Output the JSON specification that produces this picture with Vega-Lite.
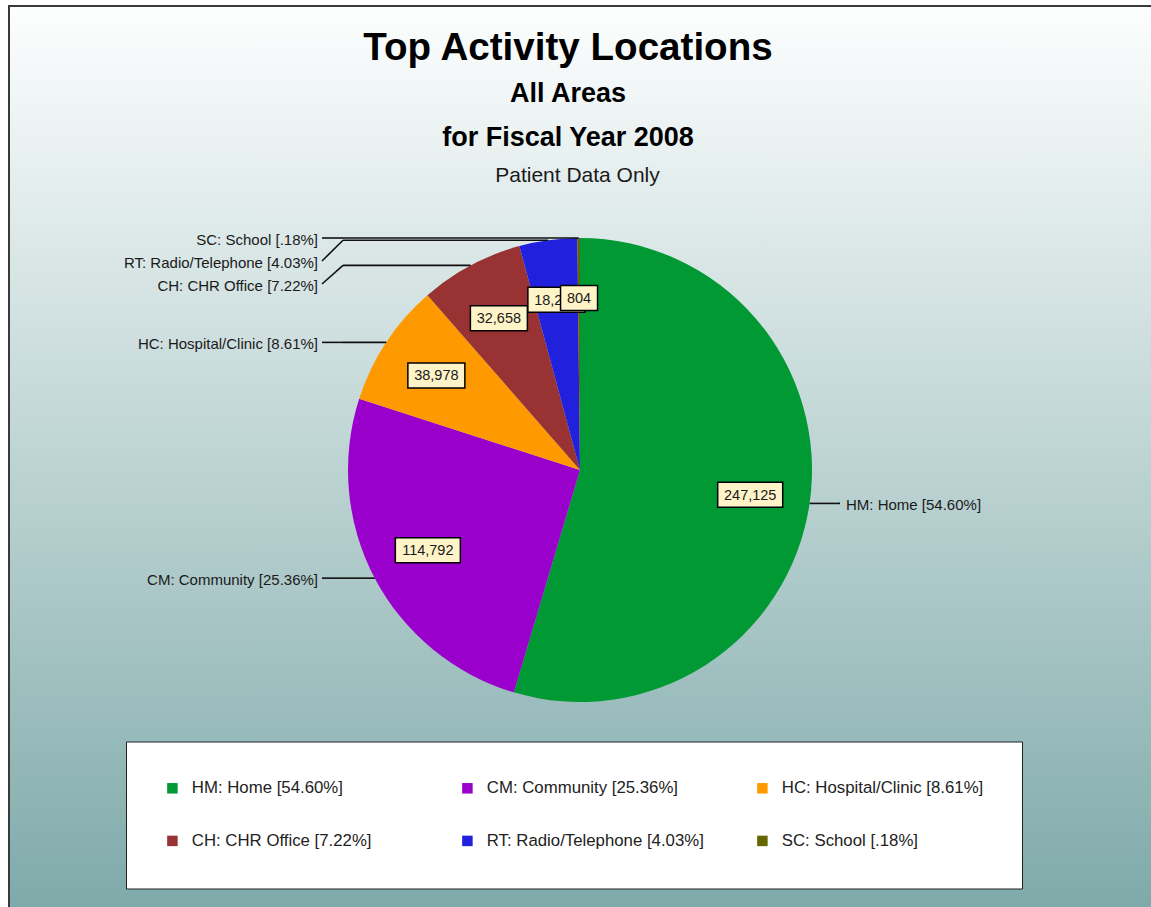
{
  "$schema": "https://vega.github.io/schema/vega-lite/v6.json",
  "width": 1150,
  "height": 910,
  "autosize": {"type": "none"},
  "padding": {"left": 9, "top": 6, "right": 0, "bottom": 0},
  "background": "#ffffff",
  "title": {
    "text": "Top Activity Locations",
    "subtitle": ["All Areas", "for Fiscal Year 2008"],
    "font": "Liberation Sans",
    "fontSize": 38.6,
    "fontWeight": "bold",
    "color": "#000000",
    "subtitleFont": "Liberation Sans",
    "subtitleFontSize": 27,
    "subtitleFontWeight": "bold",
    "subtitleColor": "#000000",
    "subtitleLineHeight": 44,
    "subtitlePadding": 12.7,
    "anchor": "middle",
    "frame": "group",
    "offset": -146,
    "dx": -16
  },
  "data": {
    "values": [
      {"order": 1, "name": "HM: Home [54.60%]", "value": 247125},
      {"order": 2, "name": "CM: Community [25.36%]", "value": 114792},
      {"order": 3, "name": "HC: Hospital/Clinic [8.61%]", "value": 38978},
      {"order": 4, "name": "CH: CHR Office [7.22%]", "value": 32658},
      {"order": 5, "name": "RT: Radio/Telephone [4.03%]", "value": 18243},
      {"order": 6, "name": "SC: School [.18%]", "value": 804}
    ]
  },
  "transform": [
    {"joinaggregate": [{"op": "sum", "field": "value", "as": "total"}]},
    {"window": [{"op": "sum", "field": "value", "as": "cum"}], "sort": [{"field": "order"}], "frame": [null, 0]},
    {"calculate": "2*PI*(datum.cum - datum.value/2)/datum.total", "as": "mid"},
    {"calculate": "232*sin(datum.mid)", "as": "ex"},
    {"calculate": "-232*cos(datum.mid)", "as": "ey"},
    {"calculate": "172*sin(datum.mid)", "as": "bx"},
    {"calculate": "-172*cos(datum.mid)", "as": "by"},
    {"calculate": "datum.mid < PI ? 'R' : 'L'", "as": "side"},
    {"window": [{"op": "row_number", "as": "rank"}], "groupby": ["side"], "sort": [{"field": "ey"}]},
    {"calculate": "datum.ey - 23*datum.rank", "as": "t"},
    {"window": [{"op": "max", "field": "t", "as": "tmax"}], "groupby": ["side"], "sort": [{"field": "ey"}], "frame": [null, 0]},
    {"calculate": "datum.tmax + 23*datum.rank", "as": "ly"},
    {"calculate": "datum.side == 'R' ? 258 : -237", "as": "elbx"},
    {"calculate": "datum.side == 'R' ? 260 : -258", "as": "endx"},
    {"calculate": "datum.side == 'R' ? 266 : -262", "as": "tx"},
    {"calculate": "format(datum.value, ',d')", "as": "vlabel"},
    {"calculate": "(8*length(datum.vlabel) - (indexof(datum.vlabel, ',') >= 0 ? 4 : 0) + 13)/2", "as": "hw"},
    {"calculate": "datum.bx - datum.hw", "as": "bx1"},
    {"calculate": "datum.bx + datum.hw", "as": "bx2"},
    {"calculate": "datum.by - 12.5", "as": "by1"},
    {"calculate": "datum.by + 12.5", "as": "by2"}
  ],
  "layer": [
    {
      "mark": {"type": "arc", "outerRadius": 232, "stroke": null},
      "encoding": {
        "theta": {"field": "value", "type": "quantitative", "stack": true},
        "order": {"field": "order", "type": "quantitative"},
        "x": {"datum": 0, "type": "quantitative", "scale": {"domain": [-571, 579], "nice": false, "zero": false}, "axis": {"orient": "top", "title": "Patient Data Only", "titleX": 568, "titleY": 175, "titleAlign": "center", "titleBaseline": "alphabetic", "titleAngle": 0}},
        "y": {"datum": 0, "type": "quantitative", "scale": {"domain": [-464, 446], "nice": false, "zero": false, "reverse": true}, "axis": null},
        "color": {
          "field": "name",
          "type": "nominal",
          "scale": {
            "domain": ["HM: Home [54.60%]", "CM: Community [25.36%]", "HC: Hospital/Clinic [8.61%]", "CH: CHR Office [7.22%]", "RT: Radio/Telephone [4.03%]", "SC: School [.18%]"],
            "range": ["#009933", "#9900cc", "#ff9900", "#993333", "#2020dd", "#666600"]
          },
          "legend": {
            "title": null,
            "orient": "none",
            "legendX": 117,
            "legendY": 735.5,
            "columns": 3,
            "direction": "horizontal",
            "gridAlign": "all",
            "symbolType": "square",
            "symbolSize": 110,
            "symbolStrokeWidth": 0,
            "labelFont": "Liberation Sans",
            "labelFontSize": 16.8,
            "labelColor": "#222222",
            "labelLimit": 400,
            "labelOffset": 11,
            "columnPadding": 50,
            "rowPadding": 35,
            "padding": 38,
            "fillColor": "#ffffff",
            "strokeColor": "#222222"
          }
        }
      }
    },
    {
      "mark": {"type": "rule", "color": "#111111", "strokeWidth": 1.6},
      "encoding": {
        "x": {"field": "ex", "type": "quantitative", "scale": {"domain": [-571, 579], "nice": false, "zero": false}, "axis": {"orient": "top", "title": "Patient Data Only", "titleX": 568, "titleY": 175, "titleAlign": "center", "titleBaseline": "alphabetic", "titleAngle": 0}},
        "x2": {"field": "elbx"},
        "y": {"field": "ey", "type": "quantitative", "scale": {"domain": [-464, 446], "nice": false, "zero": false, "reverse": true}, "axis": null},
        "y2": {"field": "ey"}
      }
    },
    {
      "mark": {"type": "rule", "color": "#111111", "strokeWidth": 1.6},
      "encoding": {
        "x": {"field": "elbx", "type": "quantitative", "scale": {"domain": [-571, 579], "nice": false, "zero": false}, "axis": {"orient": "top", "title": "Patient Data Only", "titleX": 568, "titleY": 175, "titleAlign": "center", "titleBaseline": "alphabetic", "titleAngle": 0}},
        "x2": {"field": "endx"},
        "y": {"field": "ey", "type": "quantitative", "scale": {"domain": [-464, 446], "nice": false, "zero": false, "reverse": true}, "axis": null},
        "y2": {"field": "ly"}
      }
    },
    {
      "transform": [{"filter": "datum.side == 'R'"}],
      "mark": {"type": "text", "align": "left", "baseline": "middle", "dy": 1.5, "font": "Liberation Sans", "fontSize": 15, "color": "#1a1a1a"},
      "encoding": {
        "x": {"field": "tx", "type": "quantitative", "scale": {"domain": [-571, 579], "nice": false, "zero": false}, "axis": {"orient": "top", "title": "Patient Data Only", "titleX": 568, "titleY": 175, "titleAlign": "center", "titleBaseline": "alphabetic", "titleAngle": 0}},
        "y": {"field": "ly", "type": "quantitative", "scale": {"domain": [-464, 446], "nice": false, "zero": false, "reverse": true}, "axis": null},
        "text": {"field": "name", "type": "nominal"}
      }
    },
    {
      "transform": [{"filter": "datum.side == 'L'"}],
      "mark": {"type": "text", "align": "right", "baseline": "middle", "dy": 1.5, "font": "Liberation Sans", "fontSize": 15, "color": "#1a1a1a"},
      "encoding": {
        "x": {"field": "tx", "type": "quantitative", "scale": {"domain": [-571, 579], "nice": false, "zero": false}, "axis": {"orient": "top", "title": "Patient Data Only", "titleX": 568, "titleY": 175, "titleAlign": "center", "titleBaseline": "alphabetic", "titleAngle": 0}},
        "y": {"field": "ly", "type": "quantitative", "scale": {"domain": [-464, 446], "nice": false, "zero": false, "reverse": true}, "axis": null},
        "text": {"field": "name", "type": "nominal"}
      }
    },
    {
      "transform": [{"filter": "datum.order < 6"}],
      "mark": {"type": "rect", "fill": "#fff4c8", "stroke": "#000000", "strokeWidth": 1.5},
      "encoding": {
        "x": {"field": "bx1", "type": "quantitative", "scale": {"domain": [-571, 579], "nice": false, "zero": false}, "axis": {"orient": "top", "title": "Patient Data Only", "titleX": 568, "titleY": 175, "titleAlign": "center", "titleBaseline": "alphabetic", "titleAngle": 0}},
        "x2": {"field": "bx2"},
        "y": {"field": "by1", "type": "quantitative", "scale": {"domain": [-464, 446], "nice": false, "zero": false, "reverse": true}, "axis": null},
        "y2": {"field": "by2"}
      }
    },
    {
      "transform": [{"filter": "datum.order < 6"}],
      "mark": {"type": "text", "align": "center", "baseline": "middle", "dy": 1, "font": "Liberation Sans", "fontSize": 14.5, "color": "#1a1a1a"},
      "encoding": {
        "x": {"field": "bx", "type": "quantitative", "scale": {"domain": [-571, 579], "nice": false, "zero": false}, "axis": {"orient": "top", "title": "Patient Data Only", "titleX": 568, "titleY": 175, "titleAlign": "center", "titleBaseline": "alphabetic", "titleAngle": 0}},
        "y": {"field": "by", "type": "quantitative", "scale": {"domain": [-464, 446], "nice": false, "zero": false, "reverse": true}, "axis": null},
        "text": {"field": "vlabel", "type": "nominal"}
      }
    },
    {
      "transform": [{"filter": "datum.order == 6"}],
      "mark": {"type": "rect", "fill": "#fff4c8", "stroke": "#000000", "strokeWidth": 1.5},
      "encoding": {
        "x": {"field": "bx1", "type": "quantitative", "scale": {"domain": [-571, 579], "nice": false, "zero": false}, "axis": {"orient": "top", "title": "Patient Data Only", "titleX": 568, "titleY": 175, "titleAlign": "center", "titleBaseline": "alphabetic", "titleAngle": 0}},
        "x2": {"field": "bx2"},
        "y": {"field": "by1", "type": "quantitative", "scale": {"domain": [-464, 446], "nice": false, "zero": false, "reverse": true}, "axis": null},
        "y2": {"field": "by2"}
      }
    },
    {
      "transform": [{"filter": "datum.order == 6"}],
      "mark": {"type": "text", "align": "center", "baseline": "middle", "dy": 1, "font": "Liberation Sans", "fontSize": 14.5, "color": "#1a1a1a"},
      "encoding": {
        "x": {"field": "bx", "type": "quantitative", "scale": {"domain": [-571, 579], "nice": false, "zero": false}, "axis": {"orient": "top", "title": "Patient Data Only", "titleX": 568, "titleY": 175, "titleAlign": "center", "titleBaseline": "alphabetic", "titleAngle": 0}},
        "y": {"field": "by", "type": "quantitative", "scale": {"domain": [-464, 446], "nice": false, "zero": false, "reverse": true}, "axis": null},
        "text": {"field": "vlabel", "type": "nominal"}
      }
    }
  ],
  "config": {
    "font": "Liberation Sans",
    "view": {
      "stroke": "#3a3a3a",
      "strokeWidth": 2,
      "fill": {
        "gradient": "linear",
        "x1": 0, "y1": 0, "x2": 0, "y2": 1,
        "stops": [
          {"offset": 0, "color": "#fdfefe"},
          {"offset": 1, "color": "#7ea9a9"}
        ]
      }
    },
    "axis": {
      "domain": false,
      "ticks": false,
      "labels": false,
      "grid": false,
      "titleFont": "Liberation Sans",
      "titleFontSize": 21,
      "titleFontWeight": "normal",
      "titleColor": "#1a1a1a"
    }
  }
}
